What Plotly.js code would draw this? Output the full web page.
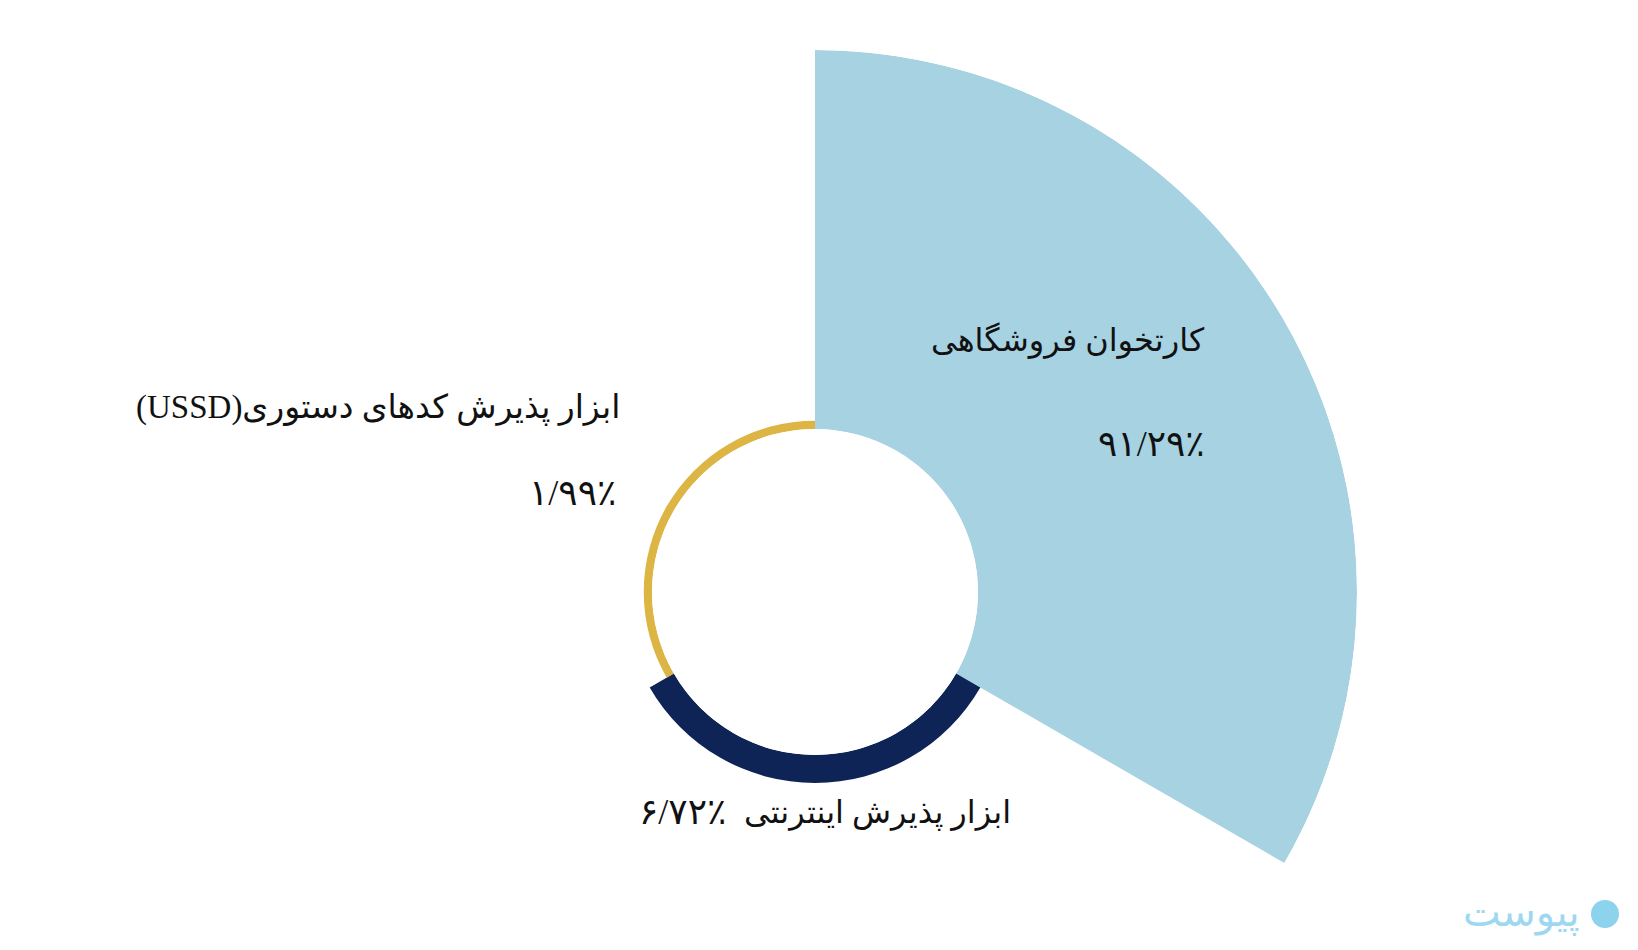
<!DOCTYPE html>
<html>
<head>
<meta charset="utf-8">
<script src="https://cdn.plot.ly/plotly-3.0.1.min.js"></script>
<style>
html, body { margin:0; padding:0; overflow:hidden; background:#fff; }
#chart { width:1638px; height:1140px; }
</style>
</head>
<body>
<div id="chart"></div>
<script>
// Data
const categories = ["کارتخوان فروشگاهی", "ابزار پذیرش اینترنتی", "ابزار پذیرش کدهای دستوری(USSD)"];
const values = [91.29, 6.72, 1.99];
const valueLabels = ["۹۱/۲۹٪", "۶/۷۲٪", "۱/۹۹٪"];
const colors = ["#A6D2E2", "#0E2457", "#DDB544"];

const W = 1638, H = 1140;
const px = x => x / W;
const py = y => (H - y) / H;
const rle = s => "\u202B" + s + "\u202C";

const fontFam = "Liberation Serif, DejaVu Sans, serif";

const trace = {
  type: "barpolar",
  theta: categories,
  r: values,
  marker: { color: colors, line: { width: 0 } },
  hoverinfo: "skip",
  showlegend: false
};

const labFont = { family: fontFam, size: 32, color: "#111" };
const valFont = { family: fontFam, size: 36, color: "#111" };
const annotations = [
  { x: px(1207), y: py(340), text: rle(categories[0]), xanchor: "right", yanchor: "middle", font: labFont },
  { x: px(1207), y: py(444), text: valueLabels[0], xanchor: "right", yanchor: "middle", font: valFont },
  { x: px(1013), y: py(812), text: rle(categories[1]), xanchor: "right", yanchor: "middle", font: labFont },
  { x: px(728), y: py(812), text: valueLabels[1], xanchor: "right", yanchor: "middle", font: valFont },
  { x: px(622), y: py(407), text: rle(categories[2]), xanchor: "right", yanchor: "middle",
    font: { family: fontFam, size: 33, color: "#111" } },
  { x: px(618), y: py(493), text: valueLabels[2], xanchor: "right", yanchor: "middle", font: valFont },
  { x: px(1582), y: py(912), text: "پیوست", xanchor: "right", yanchor: "middle",
    font: { family: "DejaVu Sans", size: 40, color: "#9ED8F0" } }
].map(a => Object.assign({ xref: "paper", yref: "paper", showarrow: false }, a));

const R = 542, cx = 815, cy = 592, hole = 163 / 542;

const layout = {
  width: W, height: H,
  margin: { l: 0, r: 0, t: 0, b: 0 },
  paper_bgcolor: "#fff",
  showlegend: false,
  polar: {
    domain: { x: [px(cx - R), px(cx + R)], y: [py(cy + R), py(cy - R)] },
    hole: hole,
    bargap: 0,
    bgcolor: "rgba(0,0,0,0)",
    radialaxis: { visible: false, range: [0, values[0]] },
    angularaxis: { visible: false, rotation: 30, direction: "clockwise",
                   categoryorder: "array", categoryarray: categories }
  },
  shapes: [
    { type: "circle", xref: "paper", yref: "paper",
      x0: px(1591), x1: px(1619), y0: py(928), y1: py(900),
      fillcolor: "#8DD3EE", line: { width: 0 } }
  ],
  annotations: annotations
};

Plotly.newPlot("chart", [trace], layout, { displayModeBar: false, staticPlot: true });
</script>
</body>
</html>
